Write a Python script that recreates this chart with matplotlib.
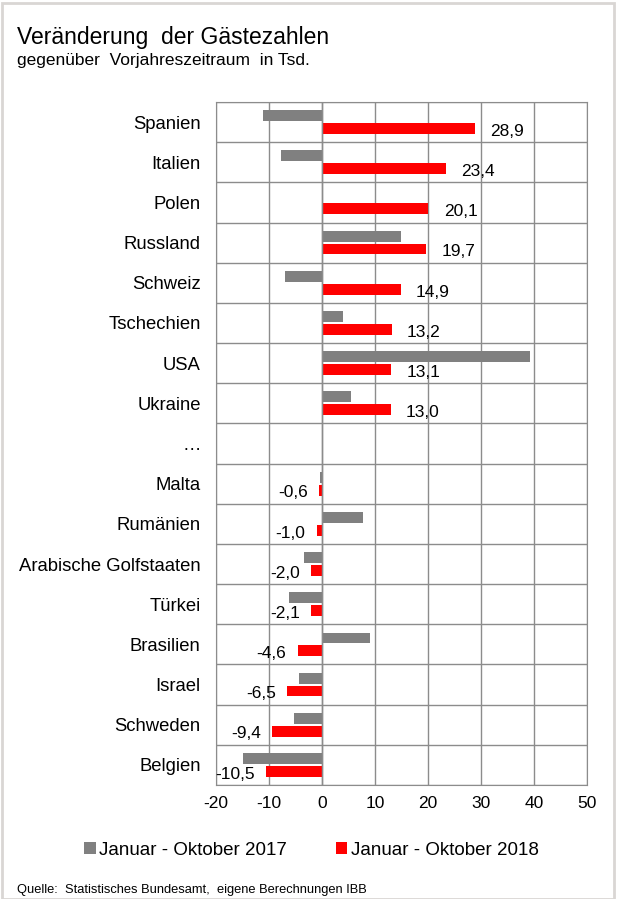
import numpy as np
import matplotlib
matplotlib.use("Agg")
import matplotlib.pyplot as plt
from matplotlib.patches import Rectangle

plt.rcParams["font.family"] = ["Liberation Sans", "DejaVu Sans"]

laender = ["Spanien", "Italien", "Polen", "Russland", "Schweiz", "Tschechien", "USA",
           "Ukraine", "…", "Malta", "Rumänien", "Arabische Golfstaaten", "Türkei",
           "Brasilien", "Israel", "Schweden", "Belgien"]
werte_2017 = [-11.2, -7.8, 0.3, 15.0, -7.0, 4.0, 39.3, 5.4, np.nan,
              -0.4, 7.8, -3.4, -6.2, 9.0, -4.3, -5.3, -14.8]
werte_2018 = [28.9, 23.4, 20.1, 19.7, 14.9, 13.2, 13.1, 13.0, np.nan,
              -0.6, -1.0, -2.0, -2.1, -4.6, -6.5, -9.4, -10.5]
x_ticks = [-20, -10, 0, 10, 20, 30, 40, 50]

grau = "#808080"
rot = "#ff0000"

fig = plt.figure(figsize=(6.17, 8.99), dpi=100)
ax = fig.add_axes([0.350, 0.1268, 0.601, 0.7597])

n = len(laender)
y = np.arange(n)
h = 0.27
ax.barh(y - 0.16, werte_2017, height=h, color=grau, label="Januar - Oktober 2017", zorder=3)
ax.barh(y + 0.16, werte_2018, height=h, color=rot, label="Januar - Oktober 2018", zorder=3)

# Datenbeschriftungen 2018
for yi, v in zip(y, werte_2018):
    if np.isnan(v):
        continue
    txt = f"{v:.1f}".replace(".", ",")
    if v >= 0:
        ax.annotate(txt, (v, yi + 0.16), xytext=(11, -2), textcoords="offset points",
                    ha="left", va="center", fontsize=12.5)
    else:
        ax.annotate(txt, (v, yi + 0.16), xytext=(-8, -2), textcoords="offset points",
                    ha="right", va="center", fontsize=12.5)

ax.set_xlim(-20, 50)
ax.set_ylim(n - 0.5, -0.5)
ax.set_xticks(x_ticks)
ax.set_xticklabels([str(t) for t in x_ticks], fontsize=12.5)
ax.set_yticks(y)
ax.set_yticklabels(laender, fontsize=13.3)
ax.set_yticks(np.arange(n + 1) - 0.5, minor=True)
ax.tick_params(axis="both", which="both", length=0)
ax.tick_params(axis="x", pad=8)
ax.tick_params(axis="y", pad=11)
ax.grid(axis="x", which="major", color="#8c8c8c", lw=1, zorder=1)
ax.grid(axis="y", which="minor", color="#8c8c8c", lw=1, zorder=1)
ax.axvline(0, color="#8c8c8c", lw=1, zorder=4)
for s in ax.spines.values():
    s.set_color("#8c8c8c")

fig.text(0.028, 0.958, "Veränderung  der Gästezahlen", fontsize=16.5, va="center")
fig.text(0.028, 0.933, "gegenüber  Vorjahreszeitraum  in Tsd.", fontsize=12.5, va="center")

fig.legend(loc="center", bbox_to_anchor=(0.505, 0.054), ncol=2, frameon=False,
           fontsize=13.5, handlelength=0.6, handleheight=0.6, handletextpad=0.2,
           columnspacing=2.6)

fig.text(0.028, 0.01, "Quelle:  Statistisches Bundesamt,  eigene Berechnungen IBB",
         fontsize=9.3, va="center")

fig.patches.append(Rectangle((0.003, 0.0), 0.992, 0.997, transform=fig.transFigure,
                             fill=False, edgecolor="#d9d6d4", lw=2))

fig.savefig("out.png", dpi=100)
